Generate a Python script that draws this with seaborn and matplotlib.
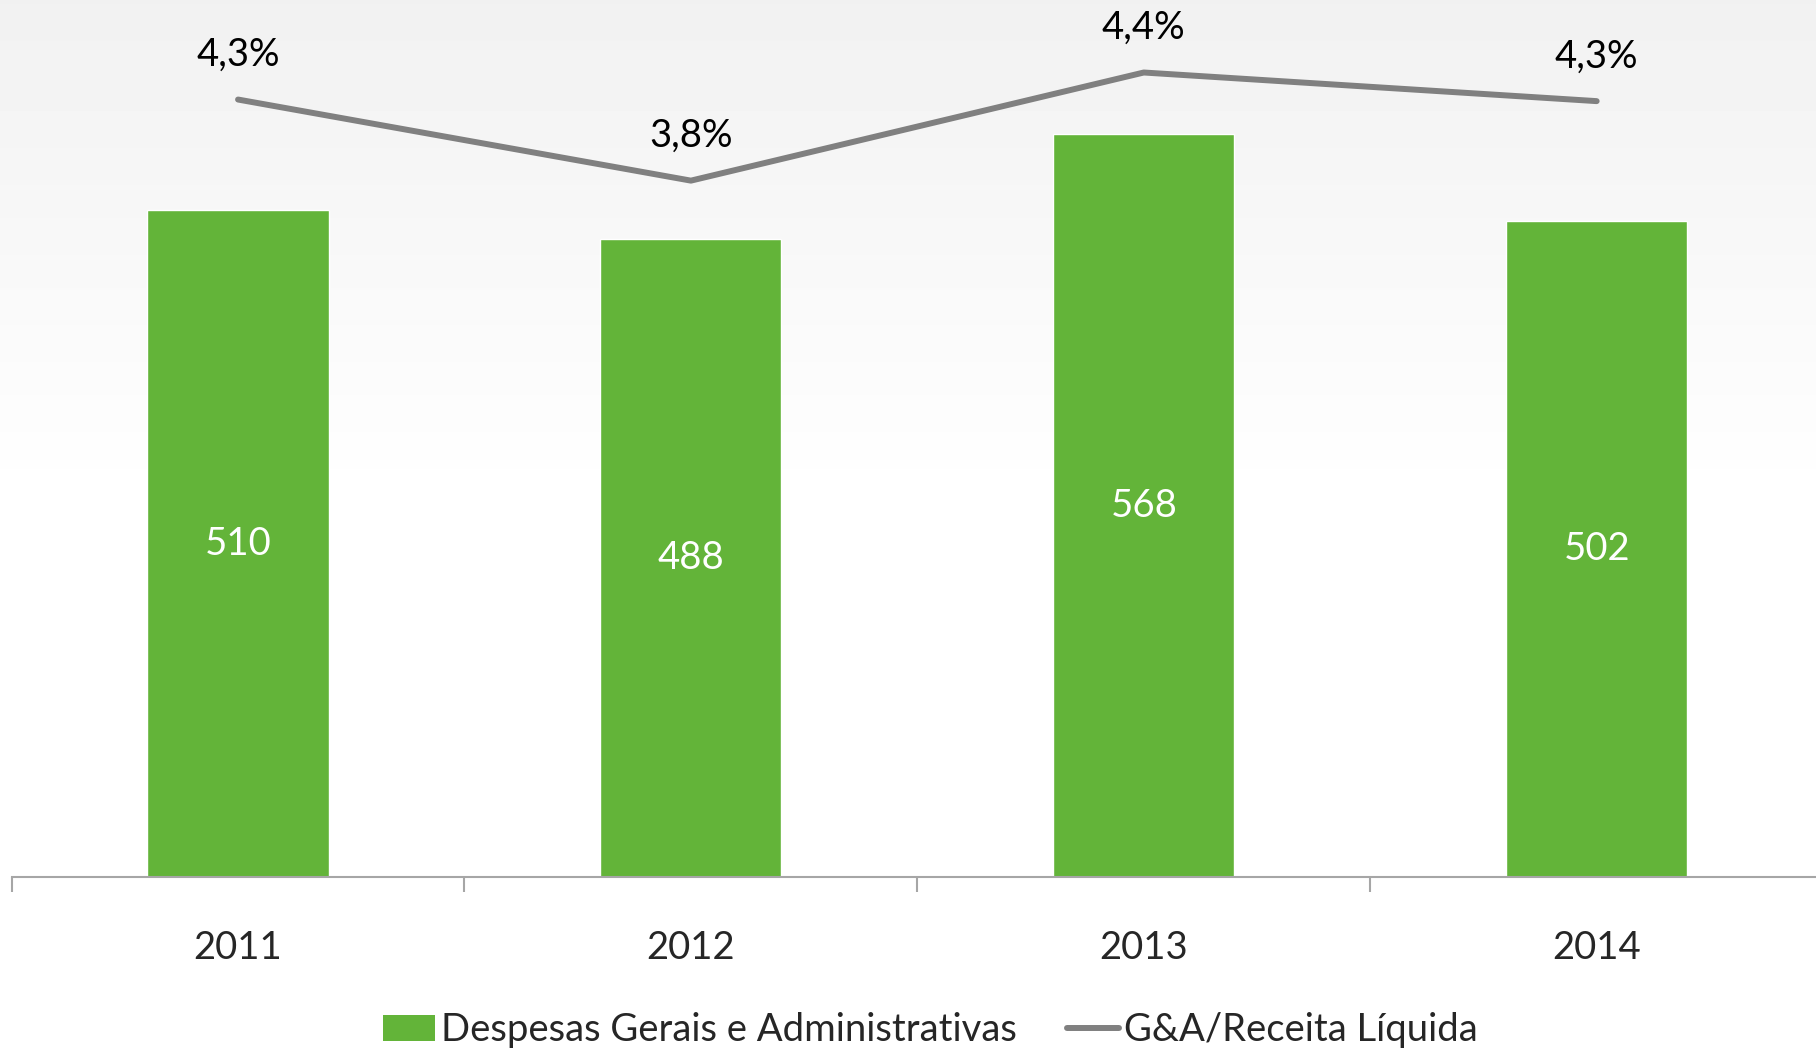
import numpy as np
import pandas as pd
import matplotlib
matplotlib.use('Agg')
import matplotlib.pyplot as plt
import seaborn as sns
from matplotlib.patches import Patch
from matplotlib.lines import Line2D

# data
years = ['2011', '2012', '2013', '2014']
despesas = [510, 488, 568, 502]          # Despesas Gerais e Administrativas
ratio = [4.27, 3.76, 4.44, 4.26]         # G&A / Receita Liquida (%)

bar_label = 'Despesas Gerais e Administrativas'
line_label = 'G&A/Receita Líquida'

green = '#63B439'
gray = '#808080'
fs = 27.5

sns.set_style('white')
plt.rcParams['font.family'] = ['Lato', 'DejaVu Sans']

df = pd.DataFrame({'ano': years, 'despesas': despesas, 'ratio': ratio})

fig = plt.figure(figsize=(18.16, 10.53), dpi=100)

# soft grey gradient in the background (top -> white)
bg = fig.add_axes([0, 0, 1, 1], zorder=-10)
grad = np.clip(np.linspace(0.945, 1.06, 256), 0, 1)[:, None]
bg.imshow(np.repeat(grad, 2, axis=1), cmap='gray', vmin=0, vmax=1,
          aspect='auto', extent=[0, 1, 0, 1], origin='upper')
bg.axis('off')

ax = fig.add_axes([0.0064, 0.1672, 0.9975, 0.8328])
ax.set_facecolor('none')
sns.barplot(data=df, x='ano', y='despesas', color=green, width=0.4,
            saturation=1, ax=ax, zorder=2)
ax.set_ylim(0, 670.7)
ax.set_xlim(-0.5, 3.5)

for p, v in zip(ax.patches, despesas):
    ax.text(p.get_x() + p.get_width() / 2, v / 2, f'{v}', ha='center',
            va='center', color='white', fontsize=fs)

ax2 = ax.twinx()
sns.pointplot(data=df, x='ano', y='ratio', color=gray, markers='',
              errorbar=None, linewidth=4.3, ax=ax2)
for ln in ax2.lines:
    ln.set_solid_capstyle('round')
    ln.set_linewidth(4.3)
ax2.set_ylim(-0.619, 4.896)
ax2.set_xlim(-0.5, 3.5)
for i, v in enumerate(ratio):
    ax2.annotate(f'{v:.1f}%'.replace('.', ','), (i, v), xytext=(0, 32),
                 textcoords='offset points', ha='center', va='center',
                 fontsize=fs, color='black')

for a in (ax, ax2):
    for s in a.spines.values():
        s.set_visible(False)
    a.set_yticks([])
    a.set_ylabel('')
    a.set_xlabel('')
ax2.set_xticks([])

ax.spines['bottom'].set_visible(True)
ax.spines['bottom'].set_color('#A6A6A6')
ax.spines['bottom'].set_linewidth(1.5)
ax.set_xticks(range(len(years)))
ax.set_xticklabels(years, fontsize=fs)
ax.tick_params(axis='x', which='major', length=0, pad=38)
ax.set_xticks(np.arange(-0.5, len(years), 1), minor=True)
ax.tick_params(axis='x', which='minor', length=11, width=1.5,
               color='#A6A6A6', direction='out', bottom=True)

handles = [Patch(facecolor=green, edgecolor='none', label=bar_label),
           Line2D([0], [0], color=gray, lw=4.3, label=line_label)]
fig.legend(handles=handles, loc='center', bbox_to_anchor=(0.5125, 0.0215),
           ncol=2, frameon=False, fontsize=fs, handlelength=1.36,
           handletextpad=0.15, columnspacing=1.3)

fig.savefig('out.png', dpi=100)
